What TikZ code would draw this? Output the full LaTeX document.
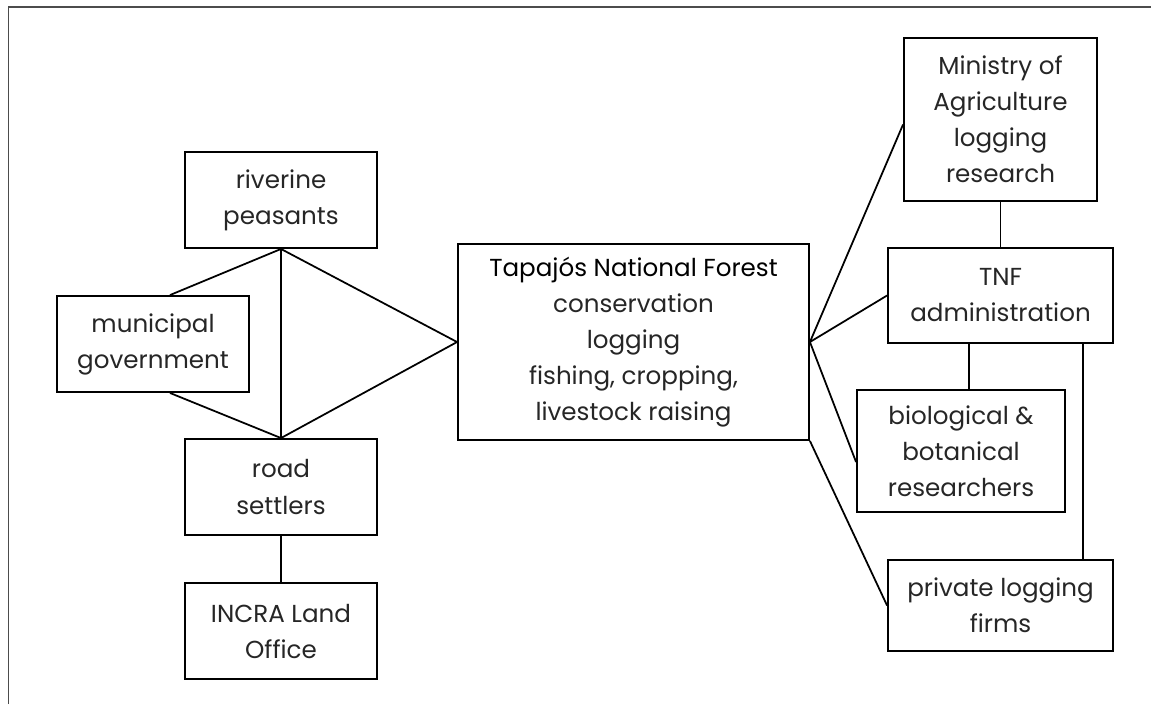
\documentclass[tikz,border=0pt]{standalone}
\usepackage{fontspec}
\setmainfont{Poppins}
\usepackage{tikz}
\usetikzlibrary{positioning,calc}
\tikzset {
    style A/.style={
        draw=black,
        line width=1.1pt,
        rectangle, % Set the shape as a rectangle
        minimum width=3.84cm,
        minimum height=1.92cm,
        inner sep=0pt,
        align=center,
        text=black!85,
        font=\fontsize{14pt}{20.5pt}\selectfont,
    },
    style B/.style={
        style A,
        minimum width=7.02cm,
        minimum height=3.92cm,
    },
    link/.style={draw=black, line width=1pt},
}

\begin{document}
\begin{tikzpicture}[x=0.02cm, y=-0.02cm]
\useasboundingbox (0,0) rectangle (1151,704);
\draw[black!70, line width=0.6pt] (8.5,704) -- (8.5,7) -- (1151,7);

% left side
\node [style A] (river) at (281,200) {riverine\\peasants};
\node [style A] (muni) at (153,344) {municipal\\government};
\node [style A] (road) at (281,487) {road\\settlers};
\node [style A] (incra) at (281,631) {INCRA Land\\Office};

% centre
\node [style B] (tnf) at (633.5,342) {{\color{black}Tapajós National Forest}\\conservation\\logging\\fishing, cropping,\\livestock raising};

% right side
\node [style A, minimum width=3.86cm, minimum height=3.26cm] (ministry) at (1000.5,119.5) {Ministry of\\Agriculture\\logging\\research};
\node [style A, minimum width=4.5cm, minimum height=1.9cm] (admin) at (1000.5,295.5) {TNF\\administration};
\node [style A, minimum width=4.16cm, minimum height=2.44cm] (bio) at (961,451) {biological \&\\botanical\\researchers};
\node [style A, minimum width=4.5cm, minimum height=1.82cm] (private) at (1000.5,605.5) {private logging\\firms};

\coordinate (munitop) at ($(muni.north)+(17,0)$);
\coordinate (munibot) at ($(muni.south)+(17,0)$);
\coordinate (biotop) at ($(bio.north)+(8,0)$);
\coordinate (pvtop) at ($(private.north east)+(-31,0)$);

\draw [link] (river.south) -- (road.north);
\draw [link] (munitop) -- (river.south) -- (tnf.west) -- (road.north) -- (munibot);
\draw [link] (road.south) -- (incra.north);

\draw [link] (tnf.east) -- ($(ministry.west)+(0,5)$);
\draw [link] (tnf.east) -- (admin.west);
\draw [link] (tnf.east) -- ($(bio.west)+(0,11)$);
\draw [link] (tnf.south east) -- (private.west);
\draw [link] (ministry.south) -- (admin.north);
\draw [link] (biotop) -- (biotop |- admin.south);
\draw [link] (pvtop) -- (pvtop |- admin.south);

\end{tikzpicture}
\end{document}
